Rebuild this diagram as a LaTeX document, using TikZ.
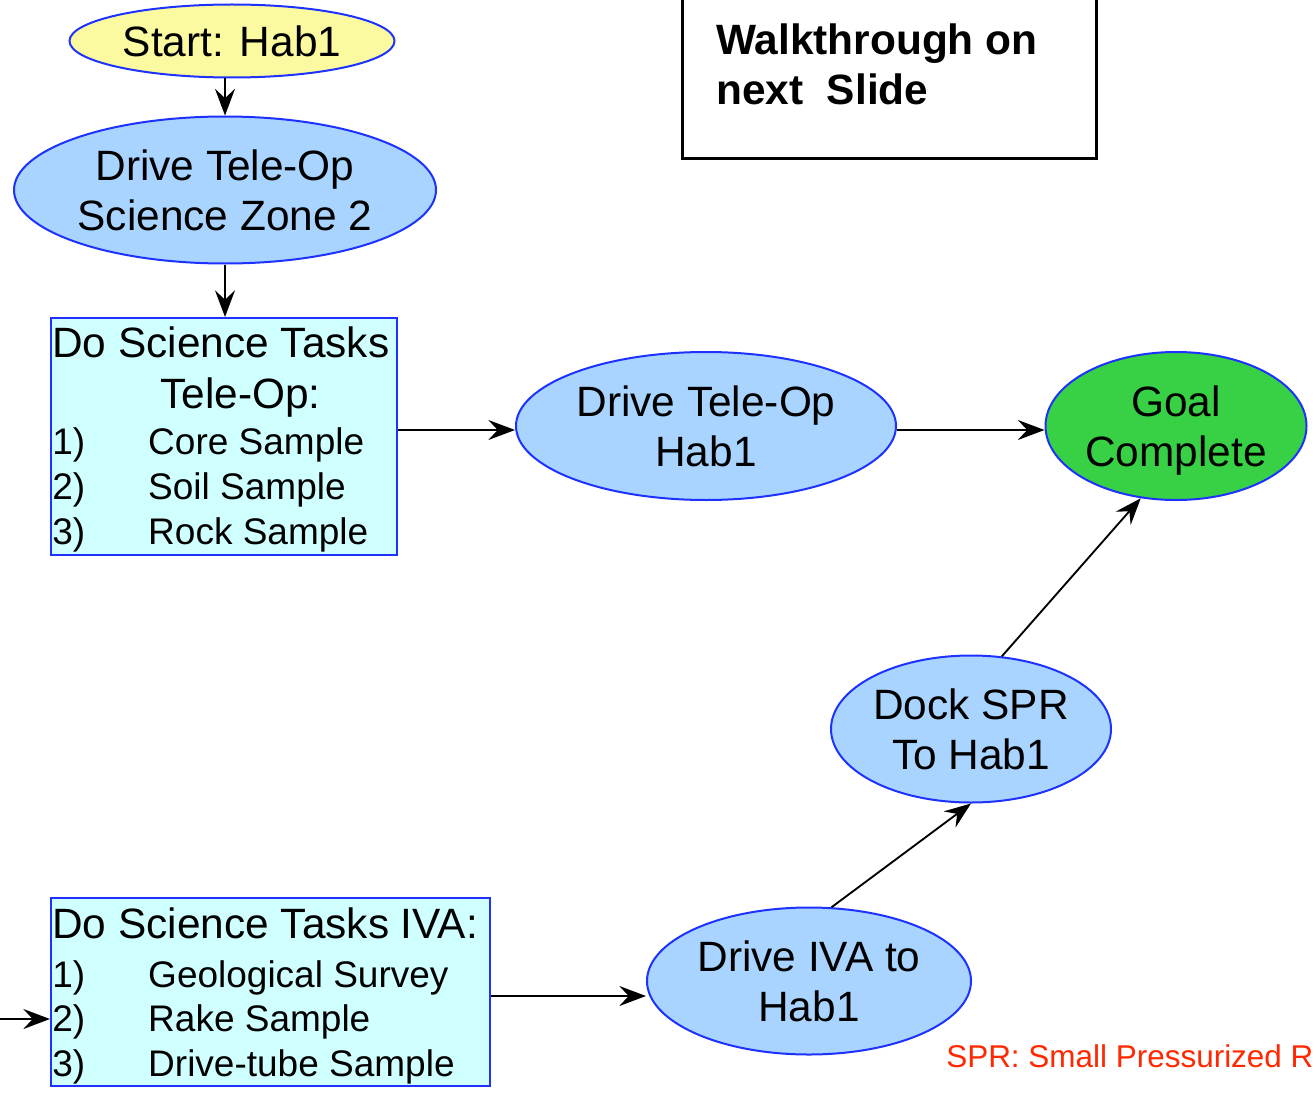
\documentclass[tikz,border=0pt]{standalone}
\usepackage{fontspec}
\setmainfont{Liberation Sans}
\usetikzlibrary{shapes.geometric,arrows.meta}

\definecolor{edgeblue}{RGB}{30,50,255}
\definecolor{startfill}{RGB}{252,250,160}
\definecolor{drivefill}{RGB}{168,212,255}
\definecolor{taskfill}{RGB}{208,255,255}
\definecolor{goalfill}{RGB}{56,208,68}
\definecolor{notered}{RGB}{255,40,0}

\newcommand\bigtxt{\fontsize{31.8pt}{37.5pt}\selectfont}
\newcommand\listtxt{\fontsize{27.75pt}{33.75pt}\selectfont}
\newcommand\taskline[2]{\makebox[72pt][l]{#1}#2}

\begin{document}
\begin{tikzpicture}[x=0.75pt,y=-0.75pt,
  oval/.style={ellipse,draw=edgeblue,line width=1.5pt,inner sep=0pt,align=center,font=\bigtxt,text depth=0pt},
  taskbox/.style={rectangle,draw=edgeblue,line width=1.5pt,fill=taskfill,inner sep=0pt,anchor=north west},
  txt/.style={inner sep=0pt,anchor=base west},
  arr/.style={line width=1.4pt,-{Stealth[length=20pt,width=15pt,inset=7pt]}}]

\useasboundingbox (0,0) rectangle (1316,1095);
\clip (0,0) rectangle (1316,1095);

% flow nodes
\node[oval,fill=startfill,minimum width={325*0.75pt},minimum height={73*0.75pt}] (start) at (232,41) {Start: Hab1};
\node[oval,fill=drivefill,minimum width={422*0.75pt},minimum height={147*0.75pt}] (zone) at (225,190) {Drive Tele-Op\\Science Zone 2};
\node[taskbox,minimum width={346*0.75pt},minimum height={237*0.75pt}] (tele) at (50,317) {};
\node[oval,fill=drivefill,minimum width={380*0.75pt},minimum height={148*0.75pt}] (hab) at (706,426) {Drive Tele-Op\\Hab1};
\node[oval,fill=goalfill,minimum width={261*0.75pt},minimum height={148*0.75pt}] (goal) at (1176,426) {Goal\\Complete};
\node[oval,fill=drivefill,minimum width={280*0.75pt},minimum height={147*0.75pt}] (dock) at (971,729) {Dock SPR\\To Hab1};
\node[oval,fill=drivefill,minimum width={324*0.75pt},minimum height={147*0.75pt}] (ivad) at (809,981) {Drive IVA to\\Hab1};
\node[taskbox,minimum width={439*0.75pt},minimum height={188*0.75pt}] (iva) at (50,897) {};

% task lists
\node[txt,font=\bigtxt] (teleA) at (52,357) {Do Science Tasks};
\node[txt,font=\bigtxt] (teleB) at (160,408) {Tele-Op:};
\node[txt,font=\listtxt] (tele1) at (52,454) {\taskline{1)}{Core Sample}};
\node[txt,font=\listtxt] (tele2) at (52,499) {\taskline{2)}{Soil Sample}};
\node[txt,font=\listtxt] (tele3) at (52,544) {\taskline{3)}{Rock Sample}};

\node[txt,font=\bigtxt] (ivaA) at (52,938) {Do Science Tasks IVA:};
\node[txt,font=\listtxt] (iva1) at (52,987) {\taskline{1)}{Geological Survey}};
\node[txt,font=\listtxt] (iva2) at (52,1031) {\taskline{2)}{Rake Sample}};
\node[txt,font=\listtxt] (iva3) at (52,1076) {\taskline{3)}{Drive-tube Sample}};

% note box
\node[rectangle,draw=black,line width=2.25pt,minimum width={414*0.75pt},minimum height={190*0.75pt},anchor=south west] (walk) at (681,160) {};
\node[txt,font=\bigtxt\bfseries] (walkA) at (716,55) {Walkthrough on};
\node[txt,font=\bigtxt\bfseries] (walkB) at (716,105) {next\ \ Slide};

% footnote
\node[txt,font=\fontsize{23.6pt}{28pt}\selectfont,text=notered] (spr) at (946,1067) {SPR: Small Pressurized R};

% connectors
\coordinate (inIVA) at (0,1019);
\coordinate (rowTop) at (0,430);
\coordinate (rowLow) at (0,996);
\draw[arr] (start.south -| zone.north) -- (zone.north);
\draw[arr] (zone.south) -- (zone.south |- tele.north);
\draw[arr] (tele.east |- rowTop) -- (hab.west |- rowTop);
\draw[arr] (hab.east |- rowTop) -- (goal.west |- rowTop);
\draw[arr] (dock.67) -- (goal.244);
\draw[arr] (ivad.73) -- (dock.south);
\draw[arr] (iva.east |- rowLow) -- (ivad.west |- rowLow);
\draw[arr] (inIVA) -- (iva.west |- inIVA);
\end{tikzpicture}
\end{document}
